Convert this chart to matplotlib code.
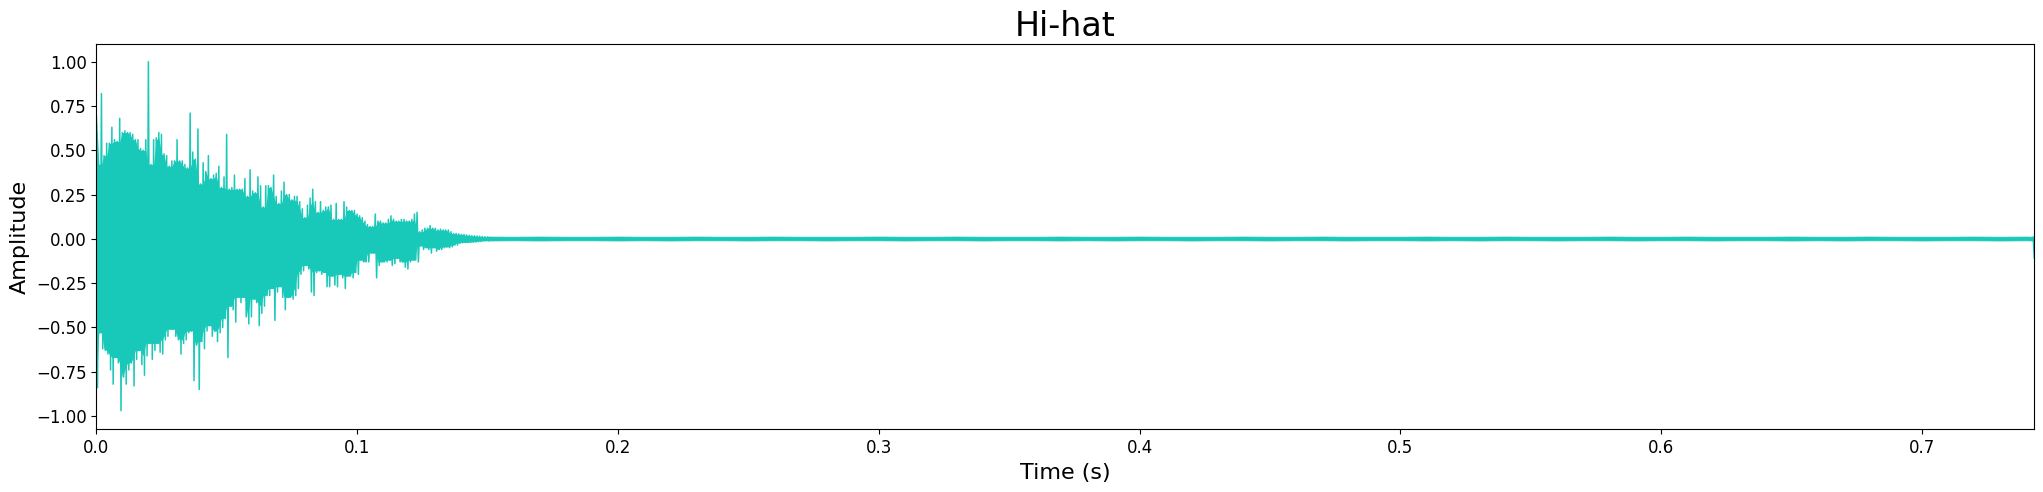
import numpy as np
from matplotlib import pyplot as plt

# hi-hat waveform
# peak envelope every 1 ms from 0 to 0.150 s (upper / lower extremes)
dt = 0.001
upper = [0.74, 0.42, 0.82, 0.47, 0.54, 0.54, 0.63, 0.56, 0.55, 0.68,
         0.60, 0.61, 0.60, 0.60, 0.59, 0.56, 0.56, 0.51, 0.50, 0.56,
         1.00, 0.42, 0.56, 0.57, 0.60, 0.59, 0.48, 0.47, 0.41, 0.44,
         0.44, 0.56, 0.44, 0.44, 0.42, 0.40, 0.71, 0.49, 0.45, 0.62,
         0.31, 0.43, 0.38, 0.47, 0.34, 0.36, 0.37, 0.41, 0.29, 0.35,
         0.59, 0.28, 0.29, 0.36, 0.28, 0.28, 0.28, 0.34, 0.24, 0.39,
         0.27, 0.26, 0.35, 0.30, 0.18, 0.30, 0.30, 0.29, 0.36, 0.24,
         0.20, 0.27, 0.32, 0.25, 0.25, 0.22, 0.24, 0.24, 0.21, 0.17,
         0.12, 0.19, 0.23, 0.28, 0.21, 0.15, 0.21, 0.16, 0.18, 0.18,
         0.19, 0.11, 0.20, 0.11, 0.11, 0.21, 0.18, 0.16, 0.16, 0.16,
         0.14, 0.13, 0.12, 0.10, 0.08, 0.07, 0.07, 0.14, 0.10, 0.10,
         0.09, 0.09, 0.11, 0.13, 0.11, 0.10, 0.10, 0.11, 0.11, 0.10,
         0.10, 0.11, 0.14, 0.15, 0.04, 0.05, 0.06, 0.06, 0.075, 0.06,
         0.06, 0.05, 0.055, 0.05, 0.05, 0.05, 0.04, 0.03, 0.03, 0.028,
         0.025, 0.025, 0.022, 0.02, 0.018, 0.017, 0.016, 0.015, 0.013, 0.012,
         0.011]
lower = [-0.84, -0.53, -0.62, -0.63, -0.65, -0.74, -0.82, -0.67, -0.70, -0.97,
         -0.78, -0.82, -0.74, -0.70, -0.83, -0.68, -0.63, -0.71, -0.77, -0.66,
         -0.59, -0.68, -0.63, -0.59, -0.64, -0.65, -0.57, -0.55, -0.51, -0.51,
         -0.55, -0.57, -0.65, -0.59, -0.57, -0.53, -0.52, -0.80, -0.60, -0.85,
         -0.58, -0.62, -0.52, -0.49, -0.55, -0.52, -0.58, -0.53, -0.50, -0.45,
         -0.67, -0.38, -0.40, -0.47, -0.33, -0.36, -0.33, -0.44, -0.48, -0.44,
         -0.34, -0.36, -0.49, -0.42, -0.38, -0.32, -0.32, -0.28, -0.46, -0.30,
         -0.27, -0.33, -0.40, -0.33, -0.33, -0.34, -0.32, -0.28, -0.20, -0.18,
         -0.15, -0.17, -0.30, -0.32, -0.19, -0.18, -0.20, -0.19, -0.27, -0.27,
         -0.21, -0.26, -0.27, -0.20, -0.22, -0.28, -0.21, -0.21, -0.22, -0.19,
         -0.20, -0.12, -0.13, -0.13, -0.13, -0.08, -0.08, -0.22, -0.15, -0.13,
         -0.13, -0.13, -0.12, -0.15, -0.14, -0.11, -0.13, -0.13, -0.16, -0.17,
         -0.13, -0.12, -0.12, -0.13, -0.04, -0.06, -0.05, -0.06, -0.08, -0.05,
         -0.07, -0.06, -0.06, -0.05, -0.045, -0.05, -0.045, -0.035, -0.035, -0.025,
         -0.022, -0.02, -0.02, -0.02, -0.018, -0.017, -0.016, -0.015, -0.012, -0.011,
         -0.01]

# quiet tail after the decay, envelope every 10 ms
tail_hi = [0.013, 0.012, 0.013, 0.012, 0.012, 0.013, 0.012, 0.012, 0.013, 0.012,
           0.012, 0.013, 0.012, 0.012, 0.012, 0.013, 0.012, 0.012, 0.013, 0.012,
           0.012, 0.012, 0.013, 0.012, 0.012, 0.013, 0.012, 0.012, 0.012, 0.013,
           0.012, 0.012, 0.013, 0.012, 0.012, 0.012, 0.013, 0.012, 0.012, 0.013,
           0.012, 0.012, 0.012, 0.013, 0.012, 0.012, 0.013, 0.012, 0.012, 0.012,
           0.013, 0.012, 0.012, 0.013, 0.012, 0.012, 0.012, 0.013, 0.012, 0.013,
           0.012]
tail_lo = [-0.009, -0.008, -0.009, -0.008, -0.008, -0.009, -0.008, -0.009, -0.008, -0.008,
           -0.009, -0.008, -0.008, -0.009, -0.008, -0.008, -0.009, -0.008, -0.008, -0.009,
           -0.008, -0.008, -0.009, -0.008, -0.009, -0.008, -0.008, -0.009, -0.008, -0.008,
           -0.009, -0.008, -0.008, -0.009, -0.008, -0.008, -0.009, -0.008, -0.009, -0.008,
           -0.008, -0.009, -0.008, -0.008, -0.009, -0.008, -0.008, -0.009, -0.008, -0.008,
           -0.009, -0.008, -0.009, -0.008, -0.008, -0.009, -0.008, -0.008, -0.009, -0.008,
           -0.009]

# last two samples (little click at the very end)
end_t = [0.7426, 0.7430]
end_amp = [0.01, -0.11]

duration = 0.743
color = '#18c8b8'

# interleave upper and lower peaks so the line looks like a waveform
t_peak = np.arange(len(upper)) * dt
t_wave = np.empty(2 * len(upper))
y_wave = np.empty(2 * len(upper))
t_wave[0::2] = t_peak
t_wave[1::2] = t_peak + dt / 2
y_wave[0::2] = upper
y_wave[1::2] = lower

# solid body: the smaller of each peak and its neighbours, spikes stay thin lines
up = np.array(upper)
lo = np.array(lower)
core_hi = np.minimum(up, np.minimum(np.roll(up, 1), np.roll(up, -1)))
core_lo = np.maximum(lo, np.maximum(np.roll(lo, 1), np.roll(lo, -1)))
core_hi[0], core_lo[0] = up[0], lo[0]

tail_t = np.append(0.15 + 0.01 * np.arange(len(tail_hi) - 1), end_t[0])

fig = plt.figure(figsize=(20.43, 4.92), dpi=100)
ax = fig.add_axes([0.0471, 0.1274, 0.9486, 0.7832])

ax.fill_between(t_peak, core_lo, core_hi, color=color, linewidth=0)
ax.plot(t_wave, y_wave, color=color, linewidth=1.1)
ax.fill_between(tail_t, tail_lo, tail_hi, color=color, linewidth=0.6)
ax.plot(end_t, end_amp, color=color, linewidth=1.0)

ax.set_xlim(0, duration)
ax.set_ylim(-1.075, 1.1)
ax.set_yticks(np.arange(-1.0, 1.01, 0.25))
ax.set_title('Hi-hat', fontsize=24)
ax.set_xlabel('Time (s)', fontsize=16)
ax.set_ylabel('Amplitude', fontsize=16)
ax.tick_params(labelsize=12)

fig.savefig('out.png', dpi=100)
